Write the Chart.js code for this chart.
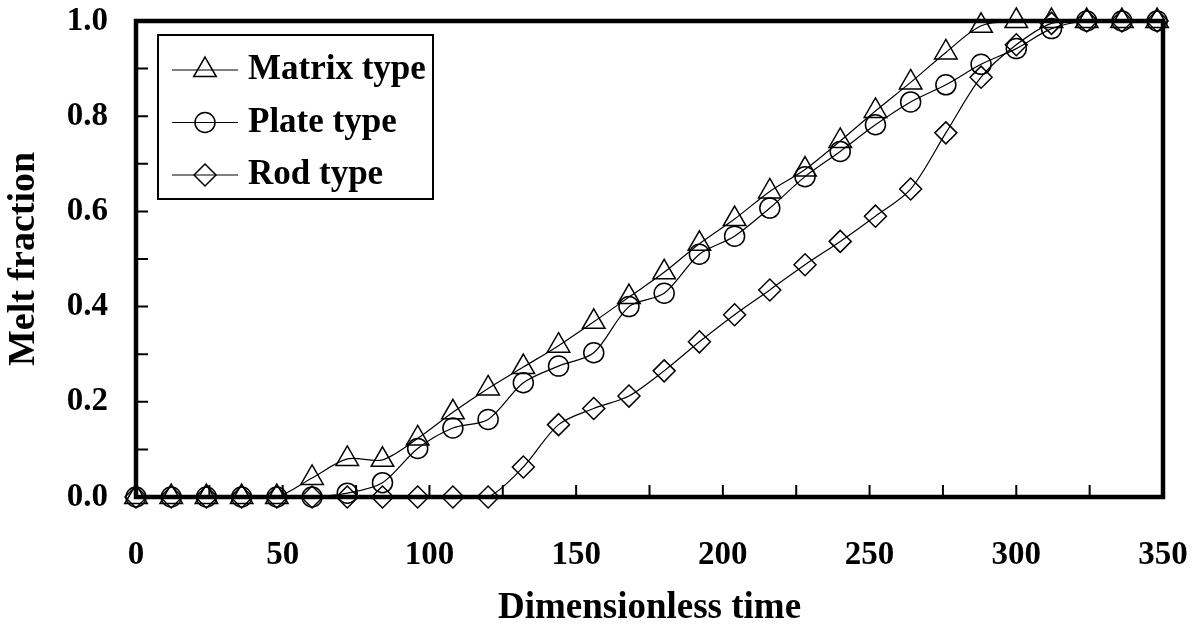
<!DOCTYPE html>
<html>
<head>
<meta charset="utf-8">
<title>Melt fraction vs dimensionless time</title>
<script src="https://cdn.jsdelivr.net/npm/chart.js@4.4.1/dist/chart.umd.min.js"></script>
<style>
  html, body { margin: 0; padding: 0; background: #fff; }
  #wrap { width: 1196px; height: 632px; }
</style>
</head>
<body>
<div id="wrap"><canvas id="meltChart" width="1196" height="632"></canvas></div>
<script>
// Data
const times = [0, 12, 24, 36, 48, 60, 72, 84, 96, 108, 120, 132, 144, 156, 168, 180,
               192, 204, 216, 228, 240, 252, 264, 276, 288, 300, 312, 324, 336, 348];

const matrixType = [0, 0, 0, 0, 0, 0.04, 0.08, 0.078, 0.123, 0.178, 0.228, 0.273, 0.318, 0.368, 0.42, 0.472,
                    0.532, 0.584, 0.642, 0.688, 0.748, 0.811, 0.871, 0.934, 0.99, 1.0, 1.0, 1.0, 1.0, 1.0];

const plateType = [0, 0, 0, 0, 0, 0, 0.008, 0.03, 0.102, 0.145, 0.163, 0.24, 0.275, 0.303, 0.40, 0.428,
                   0.51, 0.548, 0.607, 0.673, 0.726, 0.782, 0.83, 0.866, 0.909, 0.942, 0.984, 1.0, 1.0, 1.0];

const rodType = [0, 0, 0, 0, 0, 0, 0, 0, 0, 0, 0, 0.063, 0.152, 0.186, 0.212, 0.265,
                 0.326, 0.383, 0.435, 0.488, 0.537, 0.59, 0.647, 0.765, 0.882, 0.95, 0.995, 1.0, 1.0, 1.0];

const seriesNames = ['Matrix type', 'Plate type', 'Rod type'];
const xLabelTicks = [0, 50, 100, 150, 200, 250, 300, 350];
const yLabelTicks = [0.0, 0.2, 0.4, 0.6, 0.8, 1.0];

const serif = "'Liberation Serif', 'Times New Roman', serif";

function toPoints(xs, ys) {
    return xs.map((x, i) => ({ x: x, y: ys[i] }));
}

function makeSeries(label, values, style, radius) {
    return {
        label: label,
        data: toPoints(times, values),
        borderColor: '#000',
        borderWidth: 1.2,
        tension: 0.3,
        pointStyle: style,
        pointRadius: radius,
        pointHoverRadius: radius,
        pointBorderWidth: 1.5,
        pointBorderColor: '#000',
        pointBackgroundColor: 'rgba(0,0,0,0)',
        clip: false
    };
}

// keep the plot box where the reference has it: no extra room for edge labels
function noEdgePadding(scale) {
    scale.paddingTop = 0;
    scale.paddingBottom = 0;
    scale.paddingLeft = 0;
    scale.paddingRight = 0;
}

// Thick frame plus short inward tick marks
const frameTicks = {
    id: 'frameTicks',
    beforeDatasetsDraw(chart) {
        const { ctx, chartArea: a, scales: { x, y } } = chart;
        ctx.save();
        ctx.strokeStyle = '#000';
        ctx.lineWidth = 2;
        ctx.beginPath();
        x.ticks.forEach(t => {
            const px = x.getPixelForValue(t.value);
            ctx.moveTo(px, a.bottom);
            ctx.lineTo(px, a.bottom - 12);
        });
        y.ticks.forEach(t => {
            const py = y.getPixelForValue(t.value);
            ctx.moveTo(a.left, py);
            ctx.lineTo(a.left + 12, py);
        });
        ctx.stroke();
        ctx.lineWidth = 4.5;
        ctx.strokeRect(a.left, a.top, a.right - a.left, a.bottom - a.top);
        ctx.restore();
    }
};

// Legend box sitting inside the plot, top left
const insideLegend = {
    id: 'insideLegend',
    afterDraw(chart) {
        const { ctx, chartArea: a } = chart;
        const x0 = a.left + 22;
        const y0 = a.top + 14;
        ctx.save();
        ctx.strokeStyle = '#000';
        ctx.fillStyle = '#000';
        ctx.lineWidth = 2;
        ctx.strokeRect(x0, y0, 275, 164);
        ctx.font = 'bold 35px ' + serif;
        ctx.textBaseline = 'middle';
        ctx.textAlign = 'left';
        chart.data.datasets.forEach((ds, i) => {
            const cy = y0 + 35 + i * 52.5;
            ctx.lineWidth = 1.2;
            ctx.beginPath();
            ctx.moveTo(x0 + 14, cy);
            ctx.lineTo(x0 + 80, cy);
            ctx.stroke();
            ctx.save();
            ctx.fillStyle = 'rgba(0,0,0,0)';
            ctx.lineWidth = ds.pointBorderWidth;
            Chart.helpers.drawPoint(ctx, {
                pointStyle: ds.pointStyle,
                radius: ds.pointRadius,
                borderWidth: ds.pointBorderWidth,
                rotation: 0
            }, x0 + 47, cy);
            ctx.restore();
            ctx.fillText(ds.label, x0 + 90, cy);
        });
        ctx.restore();
    }
};

function renderChart() {
    const canvas = document.getElementById('meltChart');
    if (!canvas) return;

    new Chart(canvas, {
        type: 'line',
        data: {
            datasets: [
                makeSeries(seriesNames[0], matrixType, 'triangle', 13),
                makeSeries(seriesNames[1], plateType, 'circle', 10),
                makeSeries(seriesNames[2], rodType, 'rectRot', 11)
            ]
        },
        options: {
            responsive: false,
            devicePixelRatio: 1,
            animation: false,
            layout: { padding: { top: 21, right: 33, bottom: 0, left: 0 } },
            plugins: {
                legend: { display: false },
                tooltip: { enabled: false }
            },
            scales: {
                x: {
                    type: 'linear',
                    min: 0,
                    max: 350,
                    afterFit(scale) {
                        scale.height = 135;
                        noEdgePadding(scale);
                    },
                    grid: { display: false, drawTicks: false },
                    border: { display: false },
                    ticks: {
                        stepSize: 25,
                        padding: 39,
                        maxRotation: 0,
                        autoSkip: false,
                        color: '#000',
                        font: { family: serif, size: 33, weight: 'bold' },
                        callback: v => xLabelTicks.includes(v) ? String(v) : ''
                    },
                    title: {
                        display: true,
                        text: 'Dimensionless time',
                        color: '#000',
                        padding: { top: 0, bottom: 1 },
                        font: { family: serif, size: 37, weight: 'bold' }
                    }
                },
                y: {
                    min: 0,
                    max: 1,
                    afterFit(scale) {
                        scale.width = 136;
                        noEdgePadding(scale);
                    },
                    grid: { display: false, drawTicks: false },
                    border: { display: false },
                    ticks: {
                        stepSize: 0.1,
                        padding: 28,
                        autoSkip: false,
                        color: '#000',
                        font: { family: serif, size: 33, weight: 'bold' },
                        callback: v => {
                            const r = Math.round(v * 10) / 10;
                            return yLabelTicks.some(t => Math.abs(t - r) < 1e-6) ? r.toFixed(1) : '';
                        }
                    },
                    title: {
                        display: true,
                        text: 'Melt fraction',
                        color: '#000',
                        padding: { top: 1, bottom: 0 },
                        font: { family: serif, size: 38, weight: 'bold' }
                    }
                }
            }
        },
        plugins: [frameTicks, insideLegend]
    });
}

renderChart();
</script>
</body>
</html>
